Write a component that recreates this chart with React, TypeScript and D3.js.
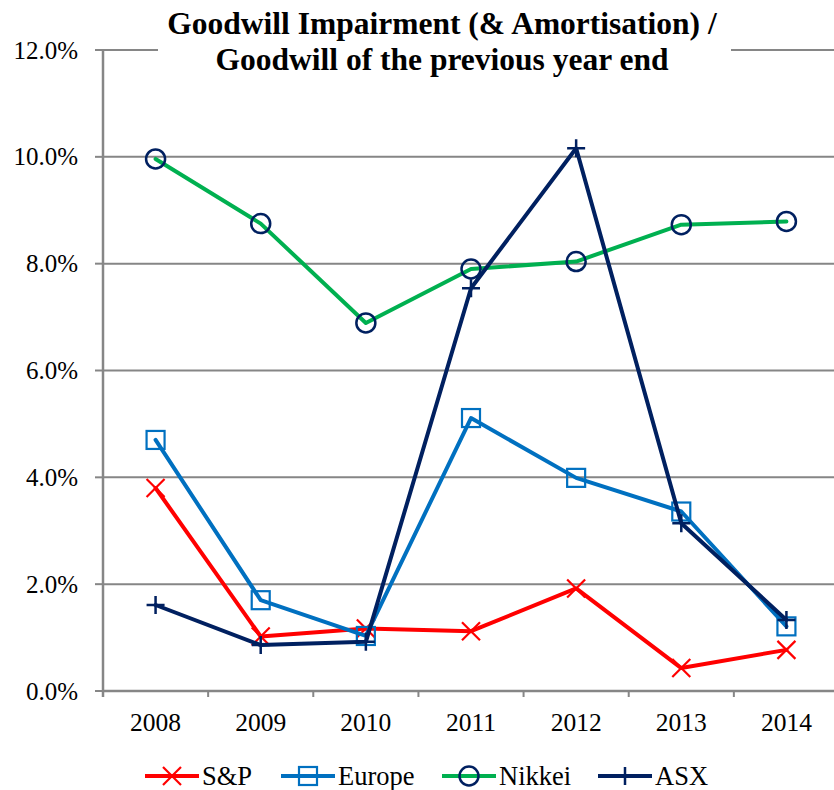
import React from "react";
import * as d3 from "d3";

const years = ["2008", "2009", "2010", "2011", "2012", "2013", "2014"];
const spValues = [3.8, 1.02, 1.17, 1.12, 1.92, 0.43, 0.77];
const europeValues = [4.7, 1.7, 1.03, 5.11, 3.99, 3.36, 1.21];
const nikkeiValues = [9.96, 8.75, 6.89, 7.9, 8.04, 8.73, 8.79];
const asxValues = [1.61, 0.86, 0.92, 7.54, 10.16, 3.14, 1.33];
const yTicks = [0, 2, 4, 6, 8, 10, 12];
const titleLines = ["Goodwill Impairment (& Amortisation) /", "Goodwill of the previous year end"];

type Series = { name: string; values: number[]; line: string; marker: string; shape: string };
const series: Series[] = [
  { name: "S&P", values: spValues, line: "#FF0000", marker: "#FF0000", shape: "x" },
  { name: "Europe", values: europeValues, line: "#0070C0", marker: "#0070C0", shape: "square" },
  { name: "Nikkei", values: nikkeiValues, line: "#00B050", marker: "#002060", shape: "circle" },
  { name: "ASX", values: asxValues, line: "#002060", marker: "#002060", shape: "plus" },
];

const W = 834, H = 790;
const left = 103, right = 839, top = 50, bottom = 691;
const GRID = "#868686";
const FONT = "Liberation Serif";

function Marker({ shape, x, y, color }: { shape: string; x: number; y: number; color: string }) {
  if (shape === "x") {
    const s = 9;
    return (
      <path d={`M${x - s},${y - s}L${x + s},${y + s}M${x - s},${y + s}L${x + s},${y - s}`} stroke={color} strokeWidth={2.2} fill="none" />
    );
  }
  if (shape === "square") {
    const s = 9;
    return <rect x={x - s} y={y - s} width={2 * s} height={2 * s} stroke={color} strokeWidth={2.2} fill="none" />;
  }
  if (shape === "circle") {
    return <circle cx={x} cy={y} r={9.5} stroke={color} strokeWidth={2.5} fill="none" />;
  }
  const s = 9;
  return (
    <path d={`M${x - s},${y}L${x + s},${y}M${x},${y - s}L${x},${y + s}`} stroke={color} strokeWidth={2.5} fill="none" />
  );
}

export default function App() {
  const x = d3.scaleBand<string>().domain(years).range([left, right]);
  const y = d3.scaleLinear().domain([0, 12]).range([bottom, top]);
  const cx = (yr: string) => (x(yr) ?? 0) + x.bandwidth() / 2;
  const line = d3
    .line<number>()
    .x((_, i) => cx(years[i]))
    .y((v) => y(v));

  const legendItems = [
    { s: series[0], x0: 145 },
    { s: series[1], x0: 281 },
    { s: series[2], x0: 442 },
    { s: series[3], x0: 598 },
  ];
  const legendY = 776;
  const legendLen = 54;
  const txt = { fontFamily: FONT };

  return (
    <svg width={W} height={H} style={{ position: "absolute", left: 0, top: 0, background: "#fff" }}>
      <rect width={W} height={H} fill="#fff" />
      {yTicks.map((t) => (
        <g key={t}>
          <line x1={left} x2={right} y1={y(t)} y2={y(t)} stroke={GRID} strokeWidth={2} />
          <line x1={left - 8} x2={left} y1={y(t)} y2={y(t)} stroke={GRID} strokeWidth={2} />
          <text x={78} y={y(t)} dy="0.34em" textAnchor="end" fontSize={25} fill="#000" style={txt}>
            {t.toFixed(1)}%
          </text>
        </g>
      ))}
      <line x1={left} x2={left} y1={top} y2={bottom + 6} stroke={GRID} strokeWidth={2.5} />
      <line x1={left} x2={right} y1={bottom} y2={bottom} stroke={GRID} strokeWidth={2.5} />
      {years.map((yr) => (
        <line key={"t" + yr} x1={x(yr)} x2={x(yr)} y1={bottom} y2={bottom + 6} stroke={GRID} strokeWidth={2} />
      ))}
      {years.map((yr) => (
        <text key={"l" + yr} x={cx(yr)} y={731} textAnchor="middle" fontSize={25.5} fill="#000" style={txt}>
          {yr}
        </text>
      ))}
      {series.map((s) => (
        <g key={s.name}>
          <path d={line(s.values) ?? ""} stroke={s.line} strokeWidth={4} fill="none" strokeLinejoin="round" strokeLinecap="round" />
          {s.values.map((v, i) => (
            <Marker key={i} shape={s.shape} x={cx(years[i])} y={y(v)} color={s.marker} />
          ))}
        </g>
      ))}
      <rect x={158} y={0} width={573} height={85} fill="#fff" />
      {titleLines.map((t, i) => (
        <text key={i} x={442} y={34 + i * 36} textAnchor="middle" fontSize={31.5} fontWeight="bold" fill="#000" style={txt}>
          {t}
        </text>
      ))}
      {legendItems.map(({ s, x0 }) => (
        <g key={"lg" + s.name}>
          <line x1={x0} x2={x0 + legendLen} y1={legendY} y2={legendY} stroke={s.line} strokeWidth={4} />
          <Marker shape={s.shape} x={x0 + legendLen / 2} y={legendY} color={s.marker} />
          <text x={x0 + legendLen + 3} y={785} fontSize={26.5} fill="#000" style={txt}>
            {s.name}
          </text>
        </g>
      ))}
    </svg>
  );
}
